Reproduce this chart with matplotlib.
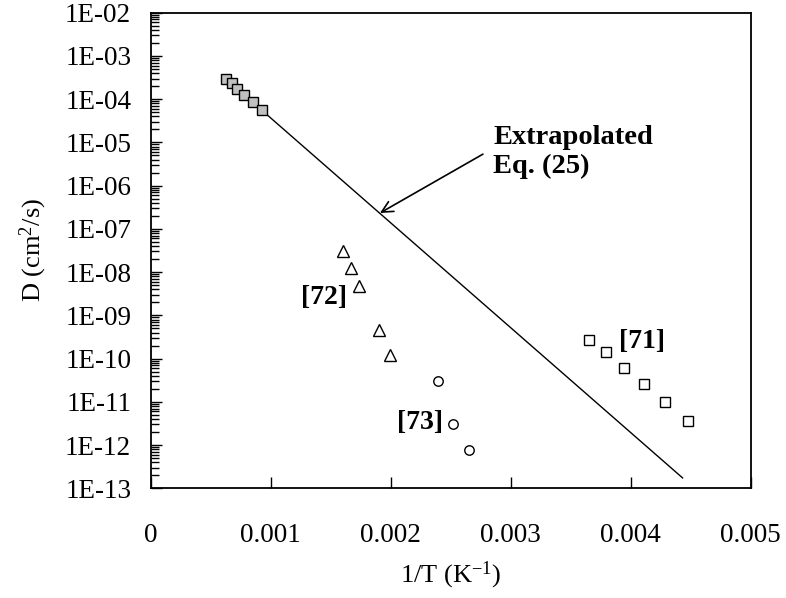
import numpy as np
import matplotlib
matplotlib.use("Agg")
import matplotlib.pyplot as plt
from matplotlib.ticker import FixedLocator, FuncFormatter, LogLocator, NullFormatter

plt.rcParams['font.family'] = ['Liberation Serif', 'DejaVu Serif']
plt.rcParams['mathtext.fontset'] = 'custom'
plt.rcParams['mathtext.rm'] = 'Liberation Serif'
plt.rcParams['mathtext.it'] = 'Liberation Serif:italic'
plt.rcParams['mathtext.bf'] = 'Liberation Serif:bold'

# Data
grey_x = [0.000628, 0.000675, 0.000722, 0.00078, 0.00085, 0.000928]
grey_D = [2.92e-4, 2.32e-4, 1.71e-4, 1.26e-4, 8.7e-5, 5.5e-5]

line_x = [0.000928, 0.004433]
line_D = [5.5e-5, 1.74e-13]

ref72_x = [0.0016, 0.001667, 0.001738, 0.0019, 0.001994]
ref72_D = [3.08e-8, 1.24e-8, 4.69e-9, 4.49e-10, 1.18e-10]

ref73_x = [0.002397, 0.002522, 0.00265]
ref73_D = [3.0e-11, 3.1e-12, 7.5e-13]

ref71_x = [0.003655, 0.003794, 0.003947, 0.004108, 0.004283, 0.00448]
ref71_D = [2.73e-10, 1.41e-10, 6.0e-11, 2.61e-11, 9.8e-12, 3.56e-12]

x_ticks = [0, 0.001, 0.002, 0.003, 0.004, 0.005]
x_ticklabels = ['0', '0.001', '0.002', '0.003', '0.004', '0.005']

fig = plt.figure(figsize=(7.86, 5.98), dpi=100)
ax = fig.add_axes([0.1917, 0.1834, 0.7633, 0.7954])

ax.plot(line_x, line_D, color='black', lw=1.0, zorder=2)
ax.plot(grey_x, grey_D, linestyle='none', marker='s', ms=7.2, mfc='#c0c0c0',
        mec='black', mew=1.0, zorder=3)
ax.plot(ref72_x, ref72_D, linestyle='none', marker='^', ms=8.5, mfc='white',
        mec='black', mew=1.0, zorder=3)
ax.plot(ref73_x, ref73_D, linestyle='none', marker='o', ms=6.8, mfc='white',
        mec='black', mew=1.0, zorder=3)
ax.plot(ref71_x, ref71_D, linestyle='none', marker='s', ms=6.5, mfc='white',
        mec='black', mew=1.0, zorder=3)

ax.set_yscale('log')
ax.set_xlim(0, 0.005)
ax.set_ylim(1e-13, 1e-2)

ax.xaxis.set_major_locator(FixedLocator(x_ticks))
ax.set_xticklabels(x_ticklabels)
ax.yaxis.set_major_locator(LogLocator(base=10, numticks=20))
ax.yaxis.set_minor_locator(LogLocator(base=10, subs=np.arange(2, 10), numticks=20))
ax.yaxis.set_minor_formatter(NullFormatter())
ax.yaxis.set_major_formatter(FuncFormatter(lambda v, p: "1E%03d" % int(round(np.log10(v)))))

ax.tick_params(axis='both', which='major', direction='in', length=8, width=1.0,
               labelsize=19.5)
ax.tick_params(axis='y', which='minor', direction='in', length=6, width=1.0)
ax.tick_params(axis='y', which='major', pad=14)
ax.tick_params(axis='x', which='major', pad=25)
for s in ax.spines.values():
    s.set_linewidth(1.3)

ax.set_xlabel('1/T (K$^{-1}$)', fontsize=19)
ax.set_ylabel('D (cm$^{2}$/s)', fontsize=19)
ax.xaxis.set_label_coords(0.5, (598 - 575) / 598 / 0.7954 - 0.1834 / 0.7954)
ax.xaxis.label.set_va('center')
ax.yaxis.set_label_coords((33 - 150.7) / 600.0, (598 - 250 - 109.7) / 475.6)
ax.yaxis.label.set_va('center')

ax.annotate('', xy=(0.001911, 2.33e-7), xytext=(0.002769, 5.35e-6),
            arrowprops=dict(arrowstyle='->', color='black', lw=1.2,
                            mutation_scale=20, shrinkA=0, shrinkB=0))
ax.text(0.002853, 6.1e-6, 'Extrapolated\nEq. (25)', fontsize=20.5, fontweight='bold',
        ha='left', va='center', linespacing=1.2)

ax.text(0.001444, 2.6e-9, '[72]', fontsize=20, fontweight='bold', ha='center', va='center')
ax.text(0.002248, 3.3e-12, '[73]', fontsize=20, fontweight='bold', ha='center', va='center')
ax.text(0.004094, 2.5e-10, '[71]', fontsize=20, fontweight='bold', ha='center', va='center')

fig.savefig('out.png', dpi=100)
